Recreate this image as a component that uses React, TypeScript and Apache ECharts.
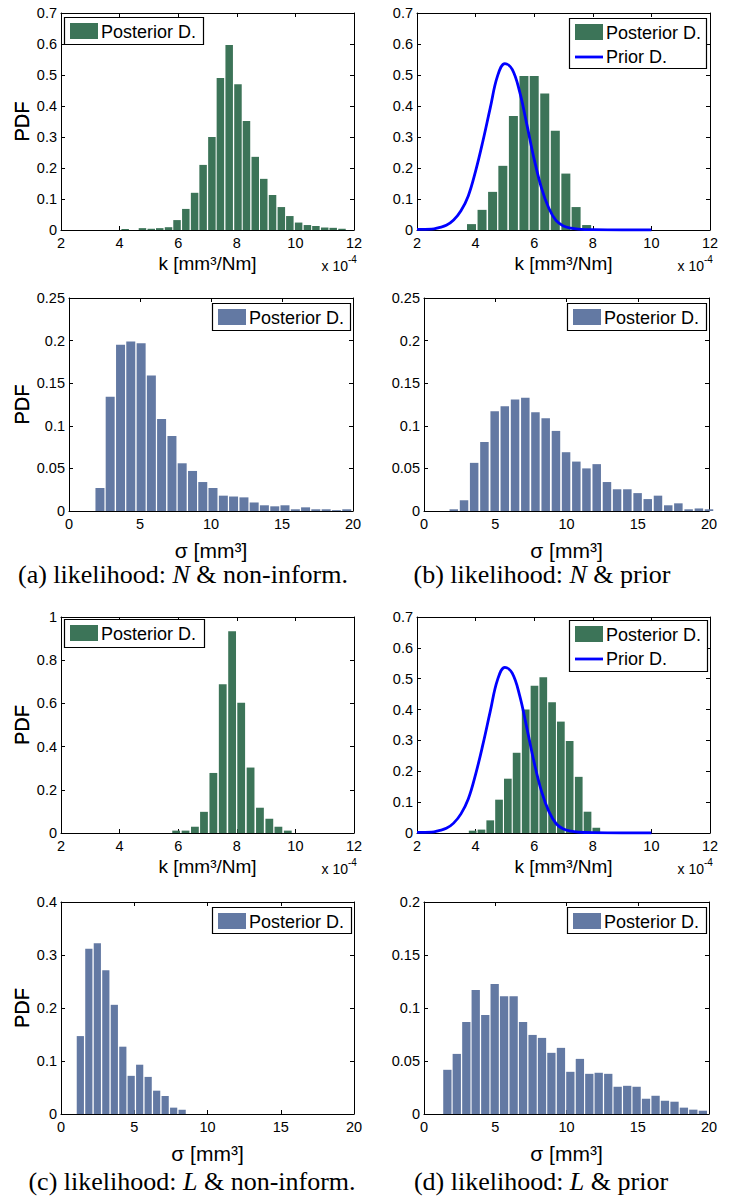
import { useEffect, useRef } from "react";
import * as echarts from "echarts";

// ---------- data (k in units of 1e-4 mm^3/Nm, sigma in mm^3) ----------
// (a) likelihood N & non-informative prior
const aKCenters = [4.19, 4.48, 4.78, 5.08, 5.37, 5.67, 5.96, 6.26, 6.56, 6.85, 7.15, 7.44, 7.74, 8.04, 8.33, 8.63, 8.92, 9.22, 9.52, 9.81, 10.11, 10.41, 10.7, 11.0, 11.29, 11.59];
const aKPdf = [0.003, 0, 0.006, 0.004, 0.006, 0.009, 0.032, 0.068, 0.12, 0.21, 0.3, 0.49, 0.597, 0.47, 0.352, 0.236, 0.165, 0.113, 0.074, 0.045, 0.024, 0.016, 0.013, 0.008, 0.007, 0.004];
const aSigmaCenters = [2.18, 2.9, 3.63, 4.35, 5.08, 5.8, 6.52, 7.25, 7.97, 8.7, 9.42, 10.14, 10.87, 11.59, 12.32, 13.04, 13.76, 14.49, 15.21, 15.94, 16.66, 17.38, 18.11, 18.83, 19.56];
const aSigmaPdf = [0.027, 0.134, 0.195, 0.199, 0.197, 0.159, 0.108, 0.088, 0.056, 0.047, 0.034, 0.027, 0.018, 0.017, 0.016, 0.01, 0.0067, 0.0055, 0.0067, 0.002, 0.0043, 0.002, 0.002, 0.001, 0.002];

// (b) likelihood N & prior
const bKCenters = [3.86, 4.22, 4.58, 4.93, 5.29, 5.65, 6.0, 6.36, 6.72, 7.08, 7.43, 7.79];
const bKPdf = [0.019, 0.065, 0.123, 0.207, 0.368, 0.497, 0.497, 0.44, 0.32, 0.182, 0.074, 0.016];
const bSigmaCenters = [2.09, 2.81, 3.52, 4.24, 4.96, 5.67, 6.39, 7.11, 7.82, 8.54, 9.26, 9.97, 10.69, 11.4, 12.12, 12.84, 13.55, 14.27, 14.99, 15.7, 16.42, 17.14, 17.85, 18.57, 19.29, 20.0];
const bSigmaPdf = [0.002, 0.0126, 0.0565, 0.081, 0.117, 0.123, 0.131, 0.133, 0.116, 0.109, 0.094, 0.069, 0.058, 0.05, 0.055, 0.034, 0.0255, 0.0255, 0.021, 0.014, 0.018, 0.0067, 0.009, 0.002, 0.003, 0.002];

// (c) likelihood L & non-informative prior
const cKCenters = [5.93, 6.25, 6.57, 6.88, 7.2, 7.52, 7.84, 8.15, 8.47, 8.79, 9.11, 9.42, 9.74];
const cKPdf = [0.011, 0.011, 0.029, 0.098, 0.278, 0.689, 0.934, 0.603, 0.303, 0.117, 0.066, 0.029, 0.011];
const cSigmaCenters = [1.32, 1.9, 2.48, 3.06, 3.64, 4.22, 4.79, 5.37, 5.95, 6.53, 7.11, 7.69, 8.27];
const cSigmaPdf = [0.147, 0.312, 0.322, 0.271, 0.206, 0.127, 0.072, 0.093, 0.07, 0.044, 0.034, 0.012, 0.008];

// (d) likelihood L & prior
const dKCenters = [3.9, 4.2, 4.5, 4.8, 5.1, 5.4, 5.71, 6.01, 6.31, 6.61, 6.91, 7.21, 7.52, 7.82, 8.12];
const dKPdf = [0.0075, 0.011, 0.041, 0.108, 0.176, 0.26, 0.4, 0.477, 0.505, 0.424, 0.361, 0.298, 0.182, 0.069, 0.017];
const dSigmaCenters = [1.64, 2.3, 2.97, 3.63, 4.3, 4.96, 5.62, 6.29, 6.95, 7.62, 8.28, 8.94, 9.61, 10.27, 10.94, 11.6, 12.26, 12.93, 13.59, 14.26, 14.92, 15.58, 16.25, 16.91, 17.58, 18.24, 18.9, 19.57];
const dSigmaPdf = [0.0417, 0.0567, 0.0868, 0.117, 0.0934, 0.1226, 0.111, 0.111, 0.0868, 0.0746, 0.0718, 0.0577, 0.0624, 0.0398, 0.052, 0.0379, 0.0389, 0.0379, 0.0257, 0.0266, 0.0257, 0.0144, 0.0172, 0.0125, 0.0116, 0.006, 0.0041, 0.0031];

// prior distribution of k (curve)
const priorK = [2, 2.5, 2.75, 3, 3.25, 3.5, 3.75, 4, 4.25, 4.5, 4.75, 5, 5.25, 5.5, 5.75, 6, 6.25, 6.5, 6.75, 7, 7.25, 7.5, 8, 9, 10];
const priorPdf = [0.002, 0.003, 0.008, 0.015, 0.032, 0.062, 0.11, 0.19, 0.287, 0.394, 0.497, 0.537, 0.518, 0.447, 0.34, 0.228, 0.135, 0.07, 0.03, 0.013, 0.006, 0.003, 0.001, 0, 0];

const kLabel = "k [mm³/Nm]";
const sigmaLabel = "σ [mm³]";
const yLabel = "PDF";
const legendPosterior = "Posterior D.";
const legendPrior = "Prior D.";
const captionA = "(a) likelihood: {i|N} & non-inform.";
const captionB = "(b) likelihood: {i|N} & prior";
const captionC = "(c) likelihood: {i|L} & non-inform.";
const captionD = "(d) likelihood: {i|L} & prior";

const SANS = "'Liberation Sans', Arial, sans-serif";
const SERIF = "'Liberation Serif', 'Times New Roman', serif";
const GREEN = "#3c7458";
const SLATE = "#6379a3";

function buildOption() {
  const panels = [
    { left: 61, top: 13, width: 293, height: 217, xMin: 2, xMax: 12, xInt: 2, xName: kLabel, xGap: 24, xFont: 19, yMax: 0.7, yInt: 0.1, centers: aKCenters, pdf: aKPdf, color: GREEN, barWidth: 7.5, prior: false, exp: true, legend: [64, 17, 139, 27] },
    { left: 417, top: 13, width: 293, height: 217, xMin: 2, xMax: 12, xInt: 2, xName: kLabel, xGap: 24, xFont: 19, yMax: 0.7, yInt: 0.1, centers: bKCenters, pdf: bKPdf, color: GREEN, barWidth: 9, prior: true, exp: true, legend: [569, 18, 137, 50] },
    { left: 69, top: 298, width: 284, height: 213, xMin: 0, xMax: 20, xInt: 5, xName: sigmaLabel, xGap: 29, xFont: 21, yMax: 0.25, yInt: 0.05, centers: aSigmaCenters, pdf: aSigmaPdf, color: SLATE, barWidth: 9, prior: false, exp: false, legend: [212, 303, 138, 27] },
    { left: 424, top: 298, width: 285, height: 213, xMin: 0, xMax: 20, xInt: 5, xName: sigmaLabel, xGap: 29, xFont: 21, yMax: 0.25, yInt: 0.05, centers: bSigmaCenters, pdf: bSigmaPdf, color: SLATE, barWidth: 8.5, prior: false, exp: false, legend: [567, 303, 139, 27] },
    { left: 61, top: 617, width: 293, height: 216, xMin: 2, xMax: 12, xInt: 2, xName: kLabel, xGap: 24, xFont: 19, yMax: 1, yInt: 0.2, centers: cKCenters, pdf: cKPdf, color: GREEN, barWidth: 7.8, prior: false, exp: true, legend: [64, 619, 140, 28] },
    { left: 417, top: 617, width: 293, height: 216, xMin: 2, xMax: 12, xInt: 2, xName: kLabel, xGap: 24, xFont: 19, yMax: 0.7, yInt: 0.1, centers: dKCenters, pdf: dKPdf, color: GREEN, barWidth: 7.7, prior: true, exp: true, legend: [569, 620, 138, 51] },
    { left: 61, top: 902, width: 293, height: 212, xMin: 0, xMax: 20, xInt: 5, xName: sigmaLabel, xGap: 29, xFont: 21, yMax: 0.4, yInt: 0.1, centers: cSigmaCenters, pdf: cSigmaPdf, color: SLATE, barWidth: 7.2, prior: false, exp: false, legend: [212, 907, 139, 26] },
    { left: 424, top: 902, width: 285, height: 212, xMin: 0, xMax: 20, xInt: 5, xName: sigmaLabel, xGap: 29, xFont: 21, yMax: 0.2, yInt: 0.05, centers: dSigmaCenters, pdf: dSigmaPdf, color: SLATE, barWidth: 8.3, prior: false, exp: false, legend: [567, 907, 139, 26] },
  ];

  const axisLine = { show: true, onZero: false, lineStyle: { color: "#000", width: 1 } };
  const axisTick = { show: true, inside: true, length: 4, lineStyle: { color: "#000", width: 1 } };
  const tickLabel = { color: "#000", fontSize: 14.5, fontFamily: SANS };

  const grid: any[] = [];
  const xAxis: any[] = [];
  const yAxis: any[] = [];
  const series: any[] = [];
  const graphic: any[] = [];

  panels.forEach((p, g) => {
    grid.push({ left: p.left, top: p.top, width: p.width, height: p.height, show: false });
    xAxis.push({
      type: "value", gridIndex: g, position: "bottom", min: p.xMin, max: p.xMax, interval: p.xInt,
      name: p.xName, nameLocation: "middle", nameGap: p.xGap,
      nameTextStyle: { color: "#000", fontSize: p.xFont, fontFamily: SANS },
      axisLine, axisTick, axisLabel: { ...tickLabel, margin: 5 }, splitLine: { show: false },
    });
    xAxis.push({
      type: "value", gridIndex: g, position: "top", min: p.xMin, max: p.xMax, interval: p.xInt,
      axisLine, axisTick, axisLabel: { show: false }, splitLine: { show: false },
    });
    yAxis.push({
      type: "value", gridIndex: g, position: "left", min: 0, max: p.yMax, interval: p.yInt,
      name: yLabel, nameLocation: "middle", nameGap: p.left - 22 - 10, nameRotate: 90,
      nameTextStyle: { color: "#000", fontSize: 20, fontFamily: SANS },
      axisLine, axisTick, axisLabel: { ...tickLabel, margin: 4 }, splitLine: { show: false },
    });
    yAxis.push({
      type: "value", gridIndex: g, position: "right", min: 0, max: p.yMax, interval: p.yInt,
      axisLine, axisTick, axisLabel: { show: false }, splitLine: { show: false },
    });

    series.push({
      type: "bar", name: legendPosterior, xAxisIndex: 2 * g, yAxisIndex: 2 * g,
      data: p.centers.map((c, i) => [c, p.pdf[i]]),
      barWidth: p.barWidth, itemStyle: { color: p.color }, silent: true,
    });
    if (p.prior) {
      series.push({
        type: "line", name: legendPrior, xAxisIndex: 2 * g, yAxisIndex: 2 * g,
        data: priorK.map((k, i) => [k, priorPdf[i]]),
        smooth: 0.4, showSymbol: false, symbol: "none", z: 5,
        lineStyle: { color: "#0000ff", width: 2.8 }, silent: true,
      });
    }

    // legend box
    const [lx, ly, lw, lh] = p.legend;
    graphic.push({ type: "rect", z: 100, shape: { x: lx + 0.5, y: ly + 0.5, width: lw, height: lh }, style: { fill: "#fff", stroke: "#000", lineWidth: 1.2 } });
    graphic.push({ type: "rect", z: 101, shape: { x: lx + 6, y: ly + 6, width: 28, height: 16 }, style: { fill: p.color } });
    graphic.push({ type: "text", z: 101, x: lx + 37, y: ly + 15, style: { text: legendPosterior, fontSize: 18, fontFamily: SANS, fill: "#000", verticalAlign: "middle", textVerticalAlign: "middle" } });
    if (p.prior) {
      graphic.push({ type: "line", z: 101, shape: { x1: lx + 6, y1: ly + 39, x2: lx + 34, y2: ly + 39 }, style: { stroke: "#0000ff", lineWidth: 2.8 } });
      graphic.push({ type: "text", z: 101, x: lx + 37, y: ly + 39, style: { text: legendPrior, fontSize: 18, fontFamily: SANS, fill: "#000", verticalAlign: "middle", textVerticalAlign: "middle" } });
    }
    // exponent label
    if (p.exp) {
      const right = p.left + p.width;
      const base = p.top + p.height;
      graphic.push({ type: "text", z: 101, x: right - 6, y: base + 36, style: { text: "x 10", fontSize: 14, fontFamily: SANS, fill: "#000", align: "right", textAlign: "right", verticalAlign: "middle", textVerticalAlign: "middle" } });
      graphic.push({ type: "text", z: 101, x: right - 6, y: base + 29, style: { text: "-4", fontSize: 10, fontFamily: SANS, fill: "#000", align: "left", textAlign: "left", verticalAlign: "middle", textVerticalAlign: "middle" } });
    }
  });

  const captions = [
    { text: captionA, x: 183, y: 574 },
    { text: captionB, x: 542, y: 574 },
    { text: captionC, x: 192, y: 1181 },
    { text: captionD, x: 541, y: 1181 },
  ];
  captions.forEach((c) => {
    graphic.push({
      type: "text", z: 101, x: c.x, y: c.y,
      style: {
        text: c.text, fontSize: 26, fontFamily: SERIF, fill: "#000",
        align: "center", textAlign: "center", verticalAlign: "middle", textVerticalAlign: "middle",
        rich: { i: { fontSize: 26, fontFamily: SERIF, fontStyle: "italic", fill: "#000" } },
      },
    });
  });

  return { animation: false, backgroundColor: "#fff", grid, xAxis, yAxis, series, graphic };
}

export default function App() {
  const ref = useRef<HTMLDivElement>(null);
  useEffect(() => {
    if (!ref.current) return;
    const chart = echarts.init(ref.current, undefined, { renderer: "svg" });
    chart.setOption(buildOption() as any);
    return () => chart.dispose();
  }, []);
  return <div ref={ref} style={{ position: "absolute", left: 0, top: 0, width: 733, height: 1197, background: "#fff" }} />;
}
